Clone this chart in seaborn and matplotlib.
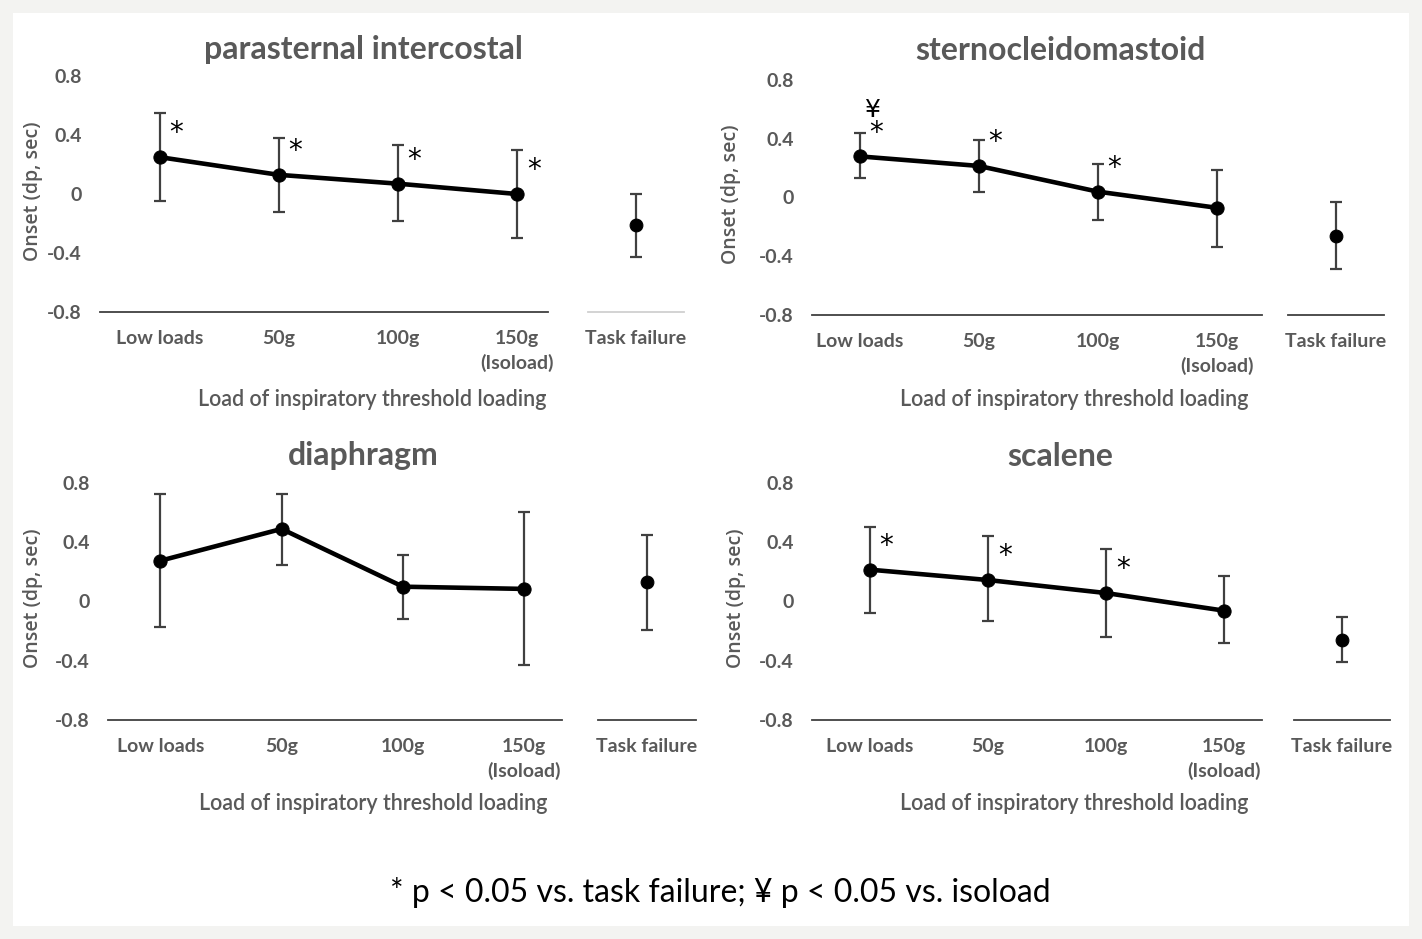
import numpy as np
import matplotlib
matplotlib.use("Agg")
import matplotlib.pyplot as plt
import seaborn as sns
from matplotlib.patches import Rectangle

sns.set_theme(style="white")
plt.rcParams['font.family'] = ['Lato', 'DejaVu Sans']

# ---------------- data ----------------
categories = ["Low loads", "50g", "100g", "150g\n(Isoload)"]
tf_label = ["Task failure"]

para_mean = [0.25, 0.13, 0.07, 0.00]
para_upper = [0.55, 0.38, 0.33, 0.30]
para_lower = [-0.05, -0.12, -0.18, -0.30]
para_tf = [-0.21]
para_tf_upper = [0.0]
para_tf_lower = [-0.43]
para_star = ["*", "*", "*", "*"]
para_yen = ["", "", "", ""]

scm_mean = [0.28, 0.215, 0.04, -0.07]
scm_upper = [0.44, 0.39, 0.225, 0.19]
scm_lower = [0.135, 0.04, -0.15, -0.34]
scm_tf = [-0.265]
scm_tf_upper = [-0.03]
scm_tf_lower = [-0.49]
scm_star = ["*", "*", "*", ""]
scm_yen = ["¥", "", "", ""]

dia_mean = [0.275, 0.49, 0.10, 0.085]
dia_upper = [0.725, 0.725, 0.315, 0.605]
dia_lower = [-0.17, 0.245, -0.12, -0.43]
dia_tf = [0.13]
dia_tf_upper = [0.45]
dia_tf_lower = [-0.19]
dia_star = ["", "", "", ""]
dia_yen = ["", "", "", ""]

sca_mean = [0.215, 0.145, 0.057, -0.062]
sca_upper = [0.505, 0.44, 0.355, 0.17]
sca_lower = [-0.08, -0.135, -0.24, -0.28]
sca_tf = [-0.263]
sca_tf_upper = [-0.105]
sca_tf_lower = [-0.41]
sca_star = ["*", "*", "*", ""]
sca_yen = ["", "", "", ""]

yticks = [-0.8, -0.4, 0, 0.4, 0.8]
ytick_labels = ["-0.8", "-0.4", "0", "0.4", "0.8"]
ylabel = "Onset (dp, sec)"
xlabel = "Load of inspiratory threshold loading"
footnote = "* p < 0.05 vs. task failure; ¥ p < 0.05 vs. isoload"

panels = [
    dict(title="parasternal intercostal", mean=para_mean, up=para_upper, lo=para_lower,
         tf=para_tf, tfu=para_tf_upper, tfl=para_tf_lower, star=para_star, yen=para_yen,
         main=(100, 548), xlim=(-0.5, 3.26), tfx=(588, 684), ytop=76, ybot=312,
         title_x=363, title_y=50, xl_x=372, xl_y=400, yl_x=33, tf_spine="#d0d0d0"),
    dict(title="sternocleidomastoid", mean=scm_mean, up=scm_upper, lo=scm_lower,
         tf=scm_tf, tfu=scm_tf_upper, tfl=scm_tf_lower, star=scm_star, yen=scm_yen,
         main=(812, 1262), xlim=(-0.4, 3.38), tfx=(1288, 1384), ytop=80, ybot=315,
         title_x=1060, title_y=50, xl_x=1074, xl_y=400, yl_x=731, tf_spine="#404040"),
    dict(title="diaphragm", mean=dia_mean, up=dia_upper, lo=dia_lower,
         tf=dia_tf, tfu=dia_tf_upper, tfl=dia_tf_lower, star=dia_star, yen=dia_yen,
         main=(108, 562), xlim=(-0.43, 3.31), tfx=(598, 696), ytop=483, ybot=720,
         title_x=363, title_y=456, xl_x=373, xl_y=804, yl_x=33, tf_spine="#404040"),
    dict(title="scalene", mean=sca_mean, up=sca_upper, lo=sca_lower,
         tf=sca_tf, tfu=sca_tf_upper, tfl=sca_tf_lower, star=sca_star, yen=sca_yen,
         main=(812, 1262), xlim=(-0.49, 3.32), tfx=(1294, 1390), ytop=483, ybot=720,
         title_x=1060, title_y=456, xl_x=1074, xl_y=804, yl_x=736, tf_spine="#404040"),
]

W, H = 1422, 939
fig = plt.figure(figsize=(W / 100, H / 100), dpi=100)
fig.patch.set_facecolor("#f3f3f1")
fig.add_artist(Rectangle((13 / W, 13 / H), 1 - 26 / W, 1 - 26 / H, transform=fig.transFigure,
                         facecolor="white", edgecolor="none", zorder=-10))

GREY = "#595959"
TICK_FS = 14
ERR_C = "#404040"


def add_ax(x0, x1, ytop, ybot):
    return fig.add_axes([x0 / W, 1 - ybot / H, (x1 - x0) / W, (ybot - ytop) / H])


def style_ax(ax, spine_color):
    ax.set_facecolor("none")
    for s in ["top", "right", "left"]:
        ax.spines[s].set_visible(False)
    ax.spines["bottom"].set_color(spine_color)
    ax.spines["bottom"].set_linewidth(1.3)
    ax.set_ylim(-0.8, 0.8)
    ax.tick_params(axis="both", length=0)
    ax.grid(False)
    ax.set_xlabel("")
    ax.set_ylabel("")


for p in panels:
    ax = add_ax(p["main"][0], p["main"][1], p["ytop"], p["ybot"])
    axt = add_ax(p["tfx"][0], p["tfx"][1], p["ytop"], p["ybot"])

    xpos = np.arange(len(categories))
    mean = np.array(p["mean"])
    up = np.array(p["up"])
    lo = np.array(p["lo"])

    ax.errorbar(xpos, mean, yerr=[mean - lo, up - mean], fmt="none", ecolor=ERR_C,
                elinewidth=1.6, capsize=4, capthick=1.6, zorder=2)
    sns.lineplot(x=xpos, y=mean, ax=ax, color="black", linewidth=3.3, marker="o",
                 markersize=9.5, markeredgecolor="black", zorder=3)
    for i in range(len(categories)):
        if p["star"][i]:
            ax.annotate(p["star"][i], (xpos[i], mean[i]), xytext=(12, 7),
                        textcoords="offset points", fontsize=20, color="black",
                        ha="center", va="bottom", family="DejaVu Sans")
        if p["yen"][i]:
            ax.annotate(p["yen"][i], (xpos[i], mean[i]), xytext=(9, 25),
                        textcoords="offset points", fontsize=18, color="black",
                        ha="center", va="bottom", family="DejaVu Sans")

    style_ax(ax, "#404040")
    ax.set_xlim(*p["xlim"])
    ax.set_xticks(xpos)
    ax.set_xticklabels(categories, fontsize=TICK_FS, color=GREY, fontweight="bold",
                       linespacing=1.45)
    ax.set_yticks(yticks)
    ax.set_yticklabels(ytick_labels, fontsize=TICK_FS, color=GREY, fontweight="bold")
    ax.tick_params(axis="y", pad=13)
    ax.tick_params(axis="x", pad=13)

    tmean = np.array(p["tf"])
    tup = np.array(p["tfu"])
    tlo = np.array(p["tfl"])
    axt.errorbar([0], tmean, yerr=[tmean - tlo, tup - tmean], fmt="none", ecolor=ERR_C,
                 elinewidth=1.6, capsize=4, capthick=1.6, zorder=2)
    sns.scatterplot(x=[0], y=tmean, ax=axt, color="black", s=85, edgecolor="black", zorder=3)
    style_ax(axt, p["tf_spine"])
    axt.set_xlim(-0.5, 0.5)
    axt.set_xticks([0])
    axt.set_xticklabels(tf_label, fontsize=TICK_FS, color=GREY, fontweight="bold")
    axt.tick_params(axis="x", pad=13)
    axt.set_yticks([])

    fig.text(p["title_x"] / W, 1 - p["title_y"] / H, p["title"], fontsize=23,
             fontweight="bold", color=GREY, ha="center", va="center")
    fig.text(p["xl_x"] / W, 1 - p["xl_y"] / H, xlabel, fontsize=15.5, color=GREY,
             ha="center", va="center", fontweight="semibold")
    fig.text(p["yl_x"] / W, 1 - ((p["ytop"] + p["ybot"]) / 2 - 3) / H, ylabel, fontsize=14,
             color=GREY, rotation=90, ha="center", va="center", family="Open Sans",
             fontweight="semibold")

fig.text(720 / W, 1 - 893 / H, footnote, fontsize=23, color="black", ha="center",
         va="center")

fig.savefig("out.png", dpi=100)
